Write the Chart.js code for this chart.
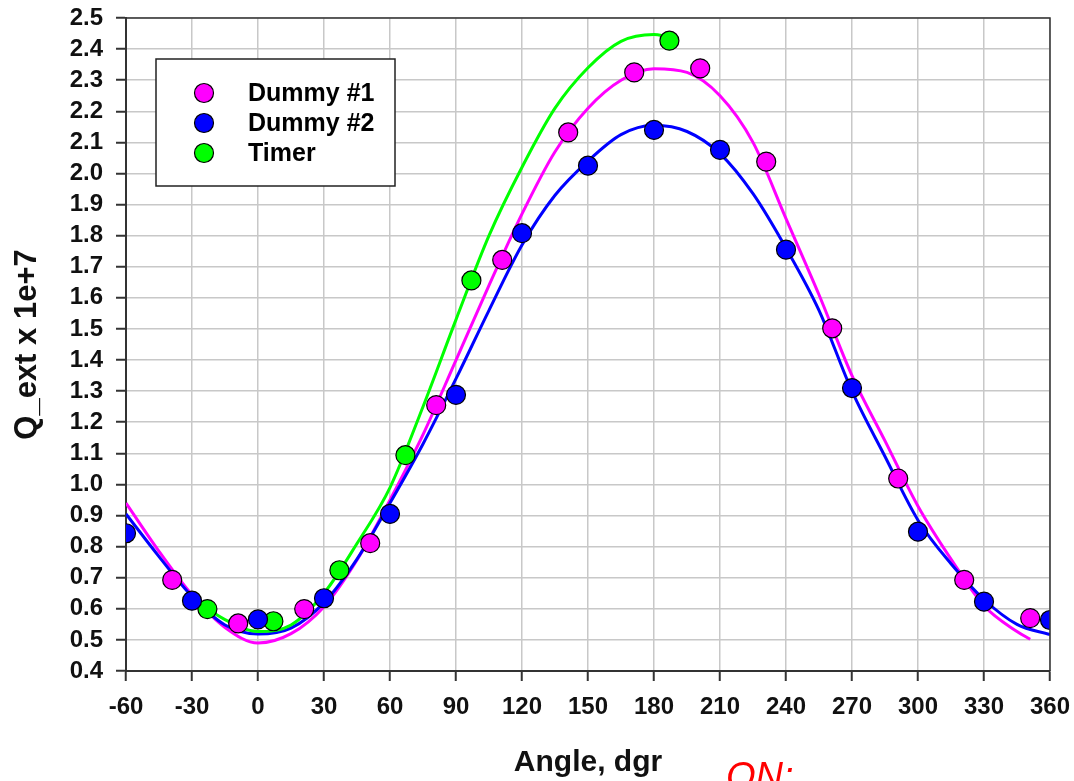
<!DOCTYPE html>
<html>
<head>
<meta charset="utf-8">
<script src="https://cdn.jsdelivr.net/npm/chart.js@4.4.1/dist/chart.umd.min.js"></script>
<style>
    html, body { margin:0; padding:0; background:#fff; overflow:hidden; }
    #wrap { position:relative; width:1074px; height:781px; }
    #note { position:absolute; left:726px; top:757px; font:italic 38px "Liberation Sans", Arial, sans-serif; color:#ff0000; line-height:38px; white-space:nowrap; }
</style>
</head>
<body>
<div id="wrap">
    <canvas id="qChart" width="1074" height="781"></canvas>
    <div id="note">ON:</div>
</div>
<script>
// measured points
const angD1 = [-39, -9, 21, 51, 81, 111, 141, 171, 201, 231, 261, 291, 321, 351];
const valD1 = [0.693, 0.553, 0.599, 0.811, 1.255, 1.722, 2.132, 2.325, 2.338, 2.038, 1.502, 1.019, 0.693, 0.570];

const angD2 = [-60, -30, 0, 30, 60, 90, 120, 150, 180, 210, 240, 270, 300, 330, 360];
const valD2 = [0.843, 0.626, 0.566, 0.634, 0.905, 1.288, 1.808, 2.025, 2.140, 2.076, 1.755, 1.310, 0.848, 0.623, 0.564];

const angTm = [-23, 7, 37, 67, 97, 187];
const valTm = [0.599, 0.560, 0.724, 1.094, 1.656, 2.427];

// fitted curves
const fitAngD1 = [-60, -45, -30, -15, 0, 15, 30, 45, 60, 75, 90, 105, 120, 135, 150, 165, 180, 195, 210, 225, 240, 255, 270, 285, 300, 315, 330, 345, 351];
const fitValD1 = [0.94, 0.785, 0.645, 0.54, 0.49, 0.52, 0.607, 0.757, 0.95, 1.16, 1.40, 1.64, 1.87, 2.07, 2.21, 2.30, 2.337, 2.325, 2.25, 2.10, 1.855, 1.61, 1.35, 1.14, 0.93, 0.76, 0.61, 0.527, 0.502];

const fitAngD2 = [-60, -45, -30, -15, 0, 15, 30, 45, 60, 75, 90, 105, 120, 135, 150, 165, 180, 195, 210, 225, 240, 255, 270, 285, 300, 315, 330, 345, 360];
const fitValD2 = [0.905, 0.768, 0.64, 0.548, 0.519, 0.538, 0.62, 0.76, 0.94, 1.13, 1.34, 1.56, 1.77, 1.93, 2.04, 2.125, 2.155, 2.135, 2.064, 1.935, 1.76, 1.56, 1.30, 1.09, 0.885, 0.745, 0.63, 0.55, 0.517];

const fitAngTm = [-23, -15, 0, 15, 30, 45, 60, 75, 90, 105, 120, 135, 150, 165, 180, 186];
const fitValTm = [0.60, 0.565, 0.527, 0.548, 0.65, 0.81, 0.99, 1.25, 1.53, 1.80, 2.02, 2.21, 2.34, 2.425, 2.447, 2.44];

const xTicks = { min: -60, max: 360, step: 30 };
const yTicks = { min: 0.4, max: 2.5, step: 0.1 };

const seriesNames = ['Dummy #1', 'Dummy #2', 'Timer'];
const seriesColors = ['#ff00ff', '#0000ff', '#00ff00'];

const FONT = '"Liberation Sans", Arial, sans-serif';
const pts = (xs, ys) => xs.map((x, i) => ({ x: x, y: ys[i] }));

const markerSet = (i, xs, ys) => ({
    label: seriesNames[i],
    data: pts(xs, ys),
    showLine: false,
    pointRadius: 9.5,
    pointHoverRadius: 9.5,
    pointBackgroundColor: seriesColors[i],
    pointBorderColor: '#000',
    pointBorderWidth: 1.2,
    order: 1
});

const curveSet = (i, xs, ys, ord) => ({
    label: seriesNames[i] + ' fit',
    data: pts(xs, ys),
    showLine: true,
    borderColor: seriesColors[i],
    borderWidth: 3,
    pointRadius: 0,
    cubicInterpolationMode: 'monotone',
    fill: false,
    order: ord
});

// legend box inside the plot + frame on top/right
const boxLegend = {
    id: 'boxLegend',
    afterDraw(chart) {
        const ctx = chart.ctx, a = chart.chartArea;
        ctx.save();
        ctx.strokeStyle = '#333';
        ctx.lineWidth = 1.5;
        ctx.beginPath();
        ctx.moveTo(a.left, a.top); ctx.lineTo(a.right, a.top); ctx.lineTo(a.right, a.bottom);
        ctx.stroke();

        const bx = a.left + 30, by = a.top + 41, bw = 239, bh = 127;
        ctx.fillStyle = '#fff';
        ctx.fillRect(bx, by, bw, bh);
        ctx.strokeStyle = '#222';
        ctx.lineWidth = 1.5;
        ctx.strokeRect(bx, by, bw, bh);

        ctx.font = 'bold 25px ' + FONT;
        ctx.textBaseline = 'middle';
        seriesNames.forEach((name, i) => {
            const cy = by + 34 + i * 30;
            ctx.beginPath();
            ctx.arc(bx + 48, cy, 9.5, 0, Math.PI * 2);
            ctx.fillStyle = seriesColors[i];
            ctx.fill();
            ctx.lineWidth = 1.2;
            ctx.strokeStyle = '#000';
            ctx.stroke();
            ctx.fillStyle = '#000';
            ctx.fillText(name, bx + 92, cy + 1);
        });
        ctx.restore();
    }
};

// pin the axis boxes so the plot area sits where the reference has it
const fixX = s => { s.height = 110; s.paddingLeft = 0; s.paddingRight = 0; };
const fixY = s => { s.width = 126; s.paddingTop = 0; s.paddingBottom = 0; };

new Chart(document.getElementById('qChart'), {
    type: 'scatter',
    data: {
        datasets: [
            markerSet(0, angD1, valD1),
            markerSet(1, angD2, valD2),
            markerSet(2, angTm, valTm),
            curveSet(0, fitAngD1, fitValD1, 12),
            curveSet(1, fitAngD2, fitValD2, 11),
            curveSet(2, fitAngTm, fitValTm, 10)
        ]
    },
    options: {
        responsive: false,
        animation: false,
        layout: { padding: { left: 0, top: 18, right: 24, bottom: 0 } },
        plugins: {
            legend: { display: false },
            tooltip: { enabled: false }
        },
        scales: {
            x: {
                type: 'linear',
                min: xTicks.min, max: xTicks.max,
                afterFit: fixX,
                ticks: {
                    stepSize: xTicks.step,
                    autoSkip: false,
                    color: '#111',
                    padding: 12,
                    maxRotation: 0,
                    font: { family: FONT, size: 24, weight: 'bold' }
                },
                grid: { color: '#c8c8c8', lineWidth: 1.5, tickLength: 10, tickColor: '#333', tickWidth: 2 },
                border: { color: '#333', width: 2 },
                title: {
                    display: true, text: 'Angle, dgr', color: '#111',
                    padding: { top: 0, bottom: 0 },
                    font: { family: FONT, size: 30, weight: 'bold' }
                }
            },
            y: {
                type: 'linear',
                min: yTicks.min, max: yTicks.max,
                afterFit: fixY,
                ticks: {
                    stepSize: yTicks.step,
                    autoSkip: false,
                    color: '#111',
                    padding: 13,
                    callback: v => v.toFixed(1),
                    font: { family: FONT, size: 24, weight: 'bold' }
                },
                grid: { color: '#c8c8c8', lineWidth: 1.5, tickLength: 10, tickColor: '#333', tickWidth: 2 },
                border: { color: '#333', width: 2 },
                title: {
                    display: true, text: 'Q_ext x 1e+7', color: '#111',
                    padding: { top: 9, bottom: 0 },
                    font: { family: FONT, size: 31, weight: 'bold' }
                }
            }
        }
    },
    plugins: [boxLegend]
});
</script>
</body>
</html>
